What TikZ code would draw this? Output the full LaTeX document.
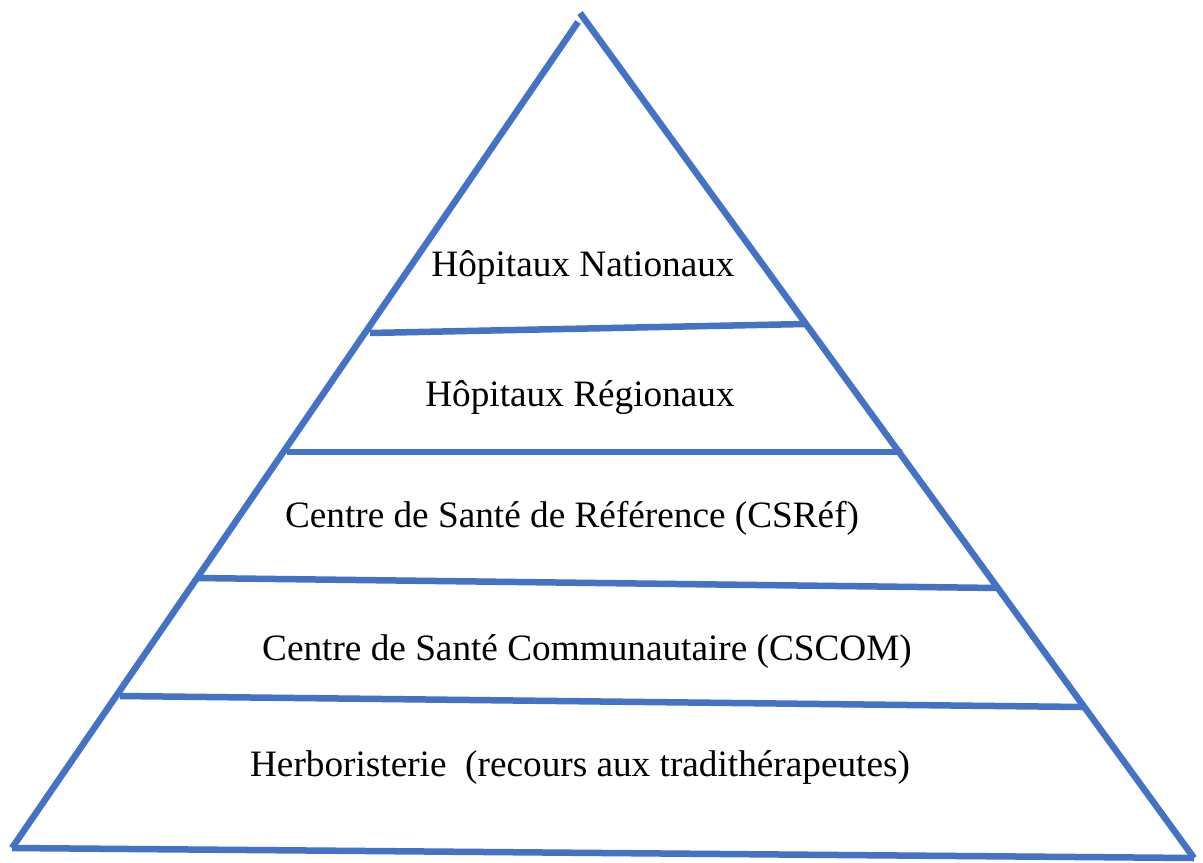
\documentclass[tikz,border=0pt]{standalone}
\usepackage{fontspec}
\setmainfont{Liberation Serif}
\usetikzlibrary{positioning,calc}

\definecolor{pyrblue}{HTML}{4472C4}

\begin{document}
\begin{tikzpicture}[
    x=0.02cm, y=-0.02cm,
    edge/.style={draw=pyrblue, line width=3.7pt},
    level/.style={font=\fontsize{21.2}{25}\selectfont, inner sep=0pt}
]
\useasboundingbox (0,0) rectangle (1203,862);

% Corners of the pyramid
\coordinate (topL) at (578,22);
\coordinate (topR) at (580,13);
\coordinate (baseL) at (12,848);
\coordinate (baseR) at (1194,858);

% Ends of the level separators
\coordinate (s1L) at (370,333);
\coordinate (s1R) at (805,324);
\coordinate (s2L) at (287,452);
\coordinate (s2R) at (902,452);
\coordinate (s3L) at (196,578);
\coordinate (s3R) at (998,588);
\coordinate (s4L) at (120,696);
\coordinate (s4R) at (1083,707);

% Sides and base
\draw[edge] (baseL) -- (topL);
\draw[edge] (topR) -- (baseR);
\draw[edge] (baseL) -- (baseR);

% Separators
\draw[edge] (s1L) -- (s1R);
\draw[edge] (s2L) -- (s2R);
\draw[edge] (s3L) -- (s3R);
\draw[edge] (s4L) -- (s4R);

% Levels
\node[level] (nat) at (583,268) {Hôpitaux Nationaux};
\node[level] (reg) at (580,398) {Hôpitaux Régionaux};
\node[level] (csref) at (572,518) {Centre de Santé de Référence (CSRéf)};
\node[level] (cscom) at (587,652) {Centre de Santé Communautaire (CSCOM)};
\node[level] (herb) at (580,768) {Herboristerie\ \ (recours aux tradithérapeutes)};

\end{tikzpicture}
\end{document}
